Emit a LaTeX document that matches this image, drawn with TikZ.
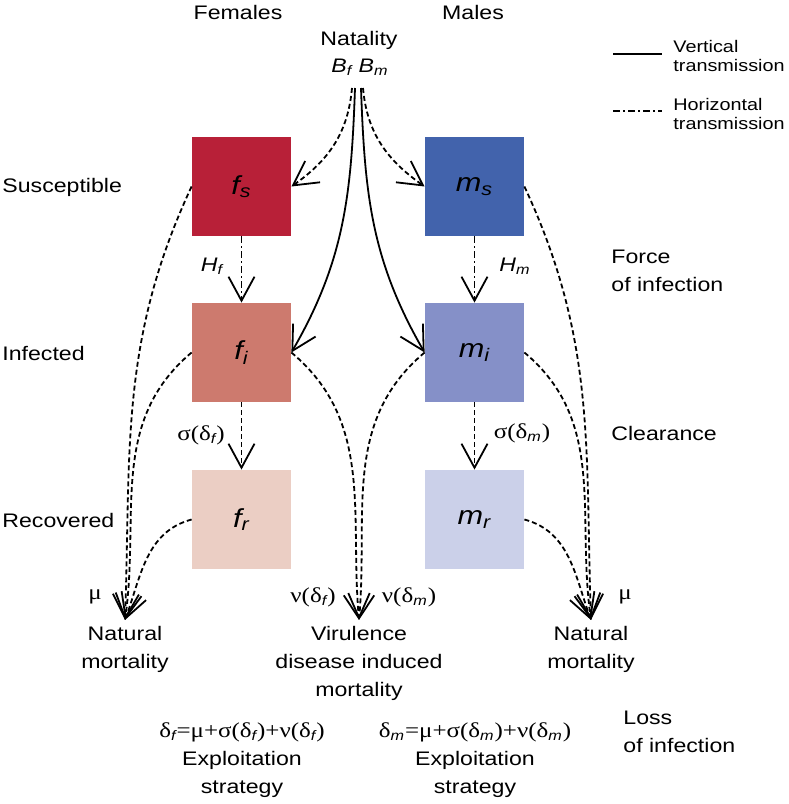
\documentclass[tikz,border=0pt]{standalone}
\usepackage{fontspec}
\setmainfont{Liberation Sans}[FakeStretch=1.18]
\newfontfamily\grk{Liberation Serif}[FakeStretch=1.18, Scale=1.08]
\usetikzlibrary{arrows.meta}
\definecolor{fsus}{RGB}{184,32,56}
\definecolor{finf}{RGB}{205,122,110}
\definecolor{frec}{RGB}{235,206,196}
\definecolor{msus}{RGB}{66,99,172}
\definecolor{minf}{RGB}{133,144,200}
\definecolor{mrec}{RGB}{203,208,233}
\newcommand{\sbit}[1]{\textsubscript{\normalfont\itshape #1}}
\tikzstyle{comp} = [rectangle, minimum size=49.5pt, inner sep=0pt, font=\fontsize{13}{14}\selectfont\itshape]
\tikzstyle{txt} = [align=center, inner sep=1pt, font=\fontsize{9.8}{14}\selectfont]
\tikzstyle{leg} = [align=left, inner sep=0pt, font=\fontsize{8.4}{9.6}\selectfont]
\tikzstyle{vtip} = [-{Straight Barb[length=12pt,width=13pt]}]
\tikzstyle{vert} = [draw, line width=0.9pt, vtip]
\tikzstyle{horiz} = [draw, line width=0.9pt, dash pattern=on 2.5pt off 1.5pt, vtip]
\tikzstyle{hdot} = [draw, line width=0.9pt, dash pattern=on 3.5pt off 1.5pt on 1pt off 1.5pt, vtip]
\begin{document}
\begin{tikzpicture}[x=0.5pt, y=0.5pt]
        \useasboundingbox (0,0) rectangle (788,804);
        % headings
        \node[txt] (fem) at (238,791) {Females};
        \node[txt] (mal) at (473,791) {Males};
        \node[txt, anchor=west] (sus) at (0,617) {Susceptible};
        \node[txt, anchor=west] (inf) at (0,451) {Infected};
        \node[txt, anchor=west] (rec) at (0,284) {Recovered};
        \node[txt] (nat) at (359,764) {Natality};
        \node[txt] (births) at (360,737) {\textit{B}\sbit{f} \textit{B}\sbit{m}};
        \coordinate (bfs) at (352,716);
        \coordinate (bfi) at (355,716);
        \coordinate (bmi) at (361,716);
        \coordinate (bms) at (363,716);
        % compartments
        \node[comp, fill=fsus] (fs) at (241.5,617.5) {f\sbit{s}};
        \node[comp, fill=msus] (ms) at (474.5,617.5) {m\sbit{s}};
        \node[comp, fill=finf] (fi) at (241.5,451.5) {f\sbit{i}};
        \node[comp, fill=minf] (mi) at (474.5,451.5) {m\sbit{i}};
        \node[comp, fill=frec] (fr) at (241.5,284.5) {f\sbit{r}};
        \node[comp, fill=mrec] (mr) at (474.5,284.5) {m\sbit{r}};
        % sinks
        \node[txt, anchor=north, inner ysep=3pt] (deadf) at (125,184) {Natural\\mortality};
        \node[txt, anchor=north, inner ysep=3pt] (vir) at (359,184) {Virulence\\disease induced\\mortality};
        \node[txt, anchor=north, inner ysep=3pt] (deadm) at (591,184) {Natural\\mortality};
        % rates
        \node[txt] (hf) at (212,538) {\textit{H}\sbit{f}};
        \node[txt] (hm) at (515,538) {\textit{H}\sbit{m}};
        \node[txt] (sf) at (201,369) {\grk σ(δ\sbit{f})};
        \node[txt] (sm) at (522,371) {\grk σ(δ\sbit{m})};
        \node[txt] (muf) at (95,207) {\grk μ};
        \node[txt] (nuf) at (313,207) {\grk ν(δ\sbit{f})};
        \node[txt] (num) at (409,207) {\grk ν(δ\sbit{m})};
        \node[txt] (mum) at (625,207) {\grk μ};
        \node[txt, anchor=west, align=left] (force) at (609,533) {Force\\of infection};
        \node[txt, anchor=west] (clear) at (609,371) {Clearance};
        \node[txt, anchor=west, align=left] (loss) at (621,72) {Loss\\of infection};
        \node[txt] (expf) at (242,44) {{\grk δ\sbit{f}=μ+σ(δ\sbit{f})+ν(δ\sbit{f})}\\Exploitation\\strategy};
        \node[txt] (expm) at (475,44) {{\grk δ\sbit{m}=μ+σ(δ\sbit{m})+ν(δ\sbit{m})}\\Exploitation\\strategy};
        % legend
        \node[leg, anchor=west] (lv) at (673,748) {Vertical\\transmission};
        \node[leg, anchor=west] (lh) at (673,690) {Horizontal\\transmission};
        \draw[line width=0.9pt] ([xshift=-30pt,yshift=1pt]lv.west) -- ([xshift=-5.5pt,yshift=1pt]lv.west);
        \draw[line width=0.9pt, dash pattern=on 3.5pt off 1.5pt on 1pt off 1.5pt] ([xshift=-30pt,yshift=1.5pt]lh.west) -- ([xshift=-5.5pt,yshift=1.5pt]lh.west);
        % natality
        \path[horiz] (bfs) to[out=-95,in=35] (fs.east);
        \path[vert] (bfi) to[out=-92,in=60] (fi.east);
        \path[vert] (bmi) to[out=-88,in=120] (mi.west);
        \path[horiz] (bms) to[out=-85,in=145] (ms.west);
        % infection and clearance
        \path[hdot] (fs) -- (fi);
        \path[hdot] (ms) -- (mi);
        \path[horiz] (fi) -- (fr);
        \path[horiz] (mi) -- (mr);
        % mortality
        \path[horiz] (fs.west) to[out=-115,in=88] (deadf.north);
        \path[horiz] (fi.west) to[out=-140,in=82] (deadf.north);
        \path[horiz] (fr.west) to[out=-165,in=70] (deadf.north);
        \path[horiz] (fi.east) to[out=-40,in=95] (vir.north);
        \path[horiz] (mi.west) to[out=-140,in=85] (vir.north);
        \path[horiz] (ms.east) to[out=-65,in=92] (deadm.north);
        \path[horiz] (mi.east) to[out=-40,in=98] (deadm.north);
        \path[horiz] (mr.east) to[out=-15,in=110] (deadm.north);
    \end{tikzpicture}
\end{document}
